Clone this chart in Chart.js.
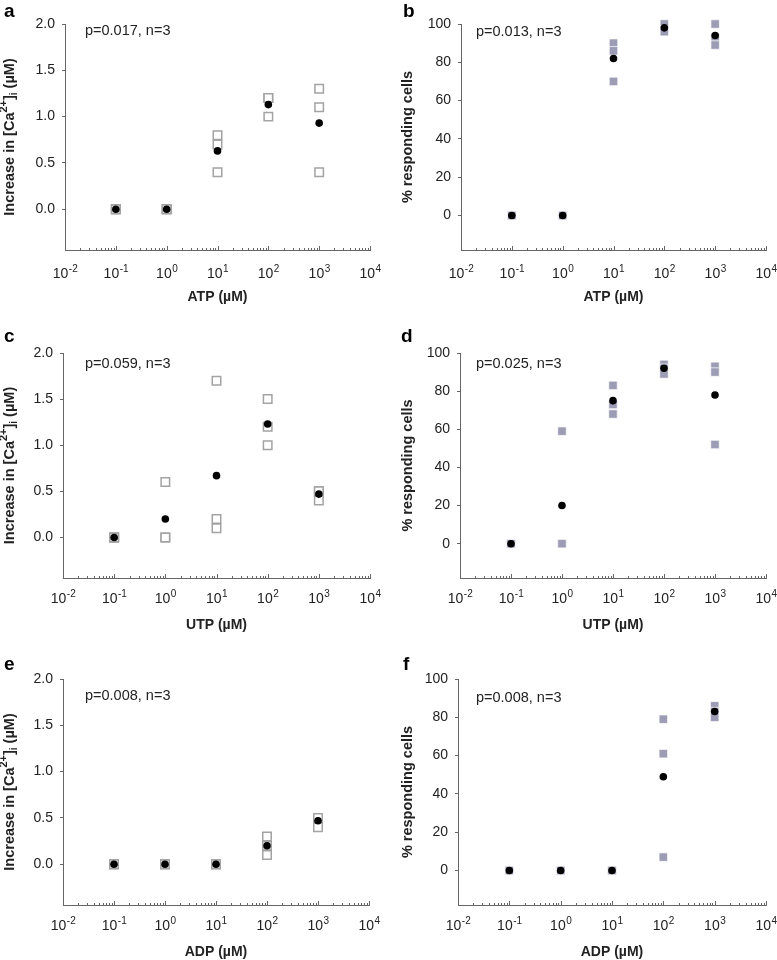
<!DOCTYPE html>
<html>
<head>
<meta charset="utf-8">
<title>Nucleotide dose responses</title>
<script src="https://cdn.jsdelivr.net/npm/chart.js@4.4.1/dist/chart.umd.min.js"></script>
<style>
  body { margin: 0; background: #fff; }
  #wrap { position: relative; width: 777px; height: 960px; }
  #wrap canvas { position: absolute; }
</style>
</head>
<body>
<div id="wrap">
  <canvas id="pa" width="388" height="318" style="left:0;top:0"></canvas>
  <canvas id="pb" width="389" height="318" style="left:388px;top:0"></canvas>
  <canvas id="pc" width="388" height="317" style="left:0;top:318px"></canvas>
  <canvas id="pd" width="389" height="317" style="left:388px;top:318px"></canvas>
  <canvas id="pe" width="388" height="325" style="left:0;top:635px"></canvas>
  <canvas id="pf" width="389" height="325" style="left:388px;top:635px"></canvas>
</div>
<script>
// agonist concentrations (µM), same on every panel
var doses = [0.1, 1, 10, 100, 1000];
var xTickExps = [-2, -1, 0, 1, 2, 3, 4];
var caTicks = [0, 0.5, 1.0, 1.5, 2.0];
var pctTicks = [0, 20, 40, 60, 80, 100];

// a - ATP, increase in [Ca2+]i, 3 experiments per dose + mean
var atpCaReps = [[0, 0, 0], [0, 0, 0], [0.8, 0.7, 0.4], [1.2, 1.2, 1.0], [1.3, 1.1, 0.4]];
var atpCaMean = [0, 0, 0.63, 1.13, 0.93];
// b - ATP, % responding cells
var atpPctReps = [[0, 0, 0], [0, 0, 0], [90, 86, 70], [100, 97, 96], [100, 93, 89]];
var atpPctMean = [0, 0, 82, 98, 94];
// c - UTP
var utpCaReps = [[0, 0, 0], [0.6, 0, 0], [1.7, 0.2, 0.1], [1.5, 1.2, 1.0], [0.5, 0.5, 0.4]];
var utpCaMean = [0, 0.2, 0.67, 1.23, 0.47];
// d
var utpPctReps = [[0, 0, 0], [59, 0, 0], [83, 73, 68], [94, 92, 89], [93, 90, 52]];
var utpPctMean = [0, 20, 75, 92, 78];
// e - ADP
var adpCaReps = [[0, 0, 0], [0, 0, 0], [0, 0, 0], [0.3, 0.2, 0.1], [0.5, 0.5, 0.4]];
var adpCaMean = [0, 0, 0, 0.2, 0.47];
// f
var adpPctReps = [[0, 0, 0], [0, 0, 0], [0, 0, 0], [79, 61, 7], [86, 83, 80]];
var adpPctMean = [0, 0, 0, 49, 83];

var pLabels = ['p=0.017, n=3', 'p=0.013, n=3', 'p=0.059, n=3', 'p=0.025, n=3', 'p=0.008, n=3', 'p=0.008, n=3'];

var FONT = '"Liberation Sans", Arial, sans-serif';

// draws the log axis ticks/labels, axis titles, panel letters, p values
var decor = {
  id: 'decor',
  afterDraw: function(chart, args, o) {
    var ctx = chart.ctx, ca = chart.chartArea, xs = chart.scales.x;
    ctx.save();
    ctx.strokeStyle = '#666';
    ctx.lineWidth = 1;
    for (var e = -2; e <= 4; e++) {
      for (var k = 1; k <= 9; k++) {
        var v = k * Math.pow(10, e);
        if (v > xs.max * 1.0001) break;
        var px = Math.round(xs.getPixelForValue(v)) + 0.5;
        var len = (k == 1) ? 4 : 2;
        ctx.beginPath();
        ctx.moveTo(px, ca.bottom);
        ctx.lineTo(px, ca.bottom - len);
        ctx.stroke();
      }
    }

    ctx.fillStyle = '#222';
    ctx.textBaseline = 'alphabetic';
    ctx.textAlign = 'left';
    var ty = ca.bottom + o.tickDy;
    xTickExps.forEach(function(ex) {
      var px = xs.getPixelForValue(Math.pow(10, ex));
      ctx.font = '14px ' + FONT;
      var w1 = ctx.measureText('10').width;
      ctx.font = '10px ' + FONT;
      var w2 = ctx.measureText(String(ex)).width;
      var x0 = px - (w1 + w2) / 2;
      ctx.font = '14px ' + FONT;
      ctx.fillText('10', x0, ty);
      ctx.font = '10px ' + FONT;
      ctx.fillText(String(ex), x0 + w1 + 0.5, ty - 6);
    });

    // x title
    ctx.font = 'bold 14px ' + FONT;
    ctx.textAlign = 'center';
    ctx.fillText(o.xTitle, (ca.left + ca.right) / 2, ca.bottom + o.titleDy);

    // panel letter
    ctx.font = 'bold 19px ' + FONT;
    ctx.textAlign = 'left';
    ctx.fillStyle = '#000';
    ctx.fillText(o.letter, o.letterAt[0], o.letterAt[1]);

    // p value
    ctx.fillStyle = '#222';
    ctx.font = '14.5px ' + FONT;
    ctx.fillText(o.p, o.pAt[0], o.pAt[1]);

    // y title, rotated
    ctx.translate(o.yTitleX, (ca.top + ca.bottom) / 2);
    ctx.rotate(-Math.PI / 2);
    var parts;
    if (o.kind == 'ca') {
      parts = [['Increase in [Ca', 14.5, 0], ['2+', 11, -7], [']', 14.5, 0], ['i', 10, 3], [' (µM)', 14.5, 0]];
    } else {
      parts = [['% responding cells', 14.5, 0]];
    }
    var total = 0;
    parts.forEach(function(p) {
      ctx.font = 'bold ' + p[1] + 'px ' + FONT;
      p.push(ctx.measureText(p[0]).width);
      total += p[3];
    });
    var cx = -total / 2;
    ctx.textAlign = 'left';
    ctx.fillStyle = '#222';
    parts.forEach(function(p) {
      ctx.font = 'bold ' + p[1] + 'px ' + FONT;
      ctx.fillText(p[0], cx, p[2]);
      cx += p[3];
    });
    ctx.restore();
  }
};

function makePanel(p) {
  var canvas = document.getElementById(p.id);
  var W = canvas.width, H = canvas.height;
  var isCa = p.kind == 'ca';
  var yTicks = isCa ? caTicks : pctTicks;
  var reps = [];
  doses.forEach(function(d, i) {
    p.reps[i].forEach(function(v) { reps.push({x: d, y: v}); });
  });
  var means = doses.map(function(d, i) { return {x: d, y: p.mean[i]}; });

  new Chart(canvas.getContext('2d'), {
    type: 'scatter',
    data: {
      datasets: [
        {
          label: 'mean',
          data: means,
          order: 0,
          clip: false,
          pointStyle: 'circle',
          pointRadius: 3.8,
          pointBackgroundColor: '#000',
          pointBorderWidth: 0
        },
        {
          label: 'experiments',
          data: reps,
          order: 1,
          clip: false,
          pointStyle: 'rect',
          pointRadius: 6,
          pointBackgroundColor: isCa ? '#fff' : '#9c9cb4',
          pointBorderColor: isCa ? '#a3a3a3' : 'rgba(255,255,255,0.7)',
          pointBorderWidth: isCa ? 1.5 : 1
        }
      ]
    },
    options: {
      responsive: false,
      animation: false,
      devicePixelRatio: 1,
      layout: { padding: { left: 0, top: p.area[2], right: W - p.area[1], bottom: 0 } },
      plugins: {
        legend: { display: false },
        tooltip: { enabled: false },
        decor: p
      },
      scales: {
        x: {
          type: 'logarithmic',
          min: 0.01,
          max: 10000,
          grid: { display: false },
          border: { display: true, color: '#666', width: 1 },
          ticks: { display: false },
          afterBuildTicks: function(s) {
            s.ticks = xTickExps.map(function(e) { return {value: Math.pow(10, e), major: true}; });
          },
          afterFit: function(s) { s.height = H - p.area[3]; }
        },
        y: {
          min: isCa ? -0.44 : -18,
          max: isCa ? 2.0 : 100,
          grid: { display: true, drawOnChartArea: false, drawTicks: true, tickLength: 3, color: '#666' },
          border: { display: true, color: '#666', width: 1 },
          ticks: {
            color: '#222',
            padding: 7,
            font: { family: FONT, size: 14 },
            callback: function(v) { return isCa ? v.toFixed(1) : String(v); }
          },
          afterBuildTicks: function(s) {
            s.ticks = yTicks.map(function(v) { return {value: v}; });
          },
          afterFit: function(s) { s.width = p.area[0]; }
        }
      }
    },
    plugins: [decor]
  });
}

var panels = [
  {id: 'pa', letter: 'a', kind: 'ca', reps: atpCaReps, mean: atpCaMean, xTitle: 'ATP (µM)', p: pLabels[0],
   area: [65, 370, 24, 250], letterAt: [4, 17], pAt: [85, 35], yTitleX: 14, tickDy: 28, titleDy: 51},
  {id: 'pb', letter: 'b', kind: 'pct', reps: atpPctReps, mean: atpPctMean, xTitle: 'ATP (µM)', p: pLabels[1],
   area: [73, 378, 24, 250], letterAt: [15, 17], pAt: [88, 36], yTitleX: 24, tickDy: 28, titleDy: 51},
  {id: 'pc', letter: 'c', kind: 'ca', reps: utpCaReps, mean: utpCaMean, xTitle: 'UTP (µM)', p: pLabels[2],
   area: [63, 370, 35, 260], letterAt: [4, 24], pAt: [85, 50], yTitleX: 14, tickDy: 25, titleDy: 51},
  {id: 'pd', letter: 'd', kind: 'pct', reps: utpPctReps, mean: utpPctMean, xTitle: 'UTP (µM)', p: pLabels[3],
   area: [72, 378, 35, 260], letterAt: [13, 24], pAt: [88, 50], yTitleX: 24, tickDy: 25, titleDy: 51},
  {id: 'pe', letter: 'e', kind: 'ca', reps: adpCaReps, mean: adpCaMean, xTitle: 'ADP (µM)', p: pLabels[4],
   area: [63, 369, 44, 270], letterAt: [4, 35], pAt: [85, 65], yTitleX: 14, tickDy: 25, titleDy: 51},
  {id: 'pf', letter: 'f', kind: 'pct', reps: adpPctReps, mean: adpPctMean, xTitle: 'ADP (µM)', p: pLabels[5],
   area: [70, 378, 44, 270], letterAt: [15, 35], pAt: [88, 67], yTitleX: 24, tickDy: 25, titleDy: 51}
];

panels.forEach(makePanel);
</script>
</body>
</html>
